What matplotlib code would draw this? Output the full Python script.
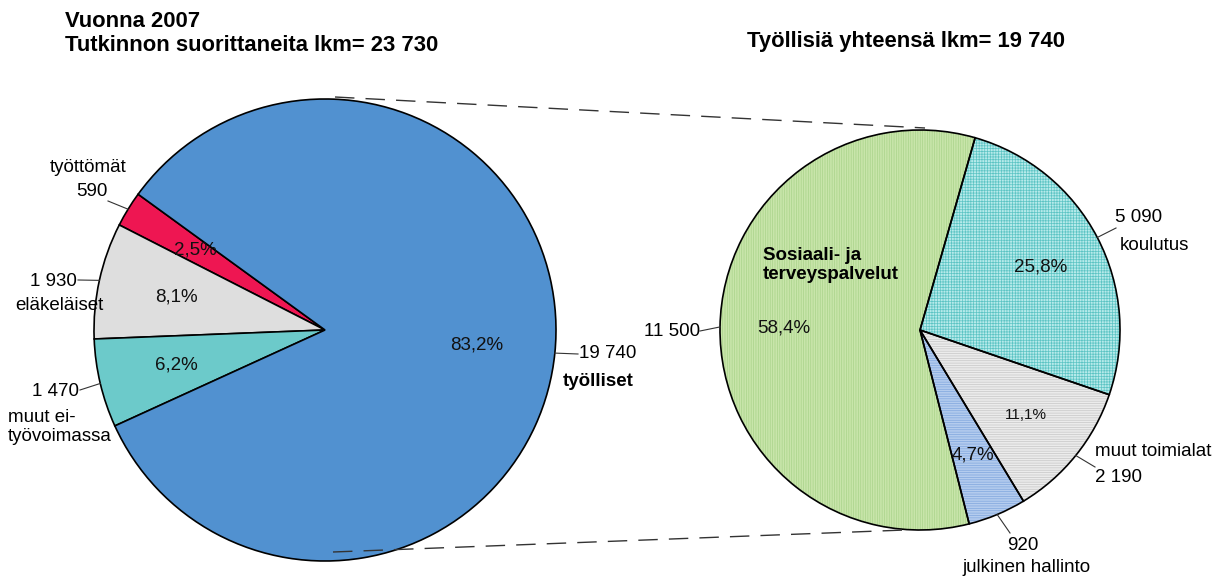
import numpy as np
import matplotlib

matplotlib.use('Agg')
import matplotlib.pyplot as plt

plt.rcParams['font.family'] = ['Liberation Sans', 'DejaVu Sans']
plt.rcParams['hatch.linewidth'] = 0.5

# vasen piirakka: tutkinnon suorittaneet
vasen_nimet = ['työttömät', 'eläkeläiset', 'muut ei-\ntyövoimassa', 'työlliset']
vasen_lkm = [590, 1930, 1470, 19740]
vasen_varit = ['#EE1652', '#DEDEDE', '#6CCACA', '#5191D0']

# oikea piirakka: työlliset toimialoittain
oikea_nimet = ['Sosiaali- ja\nterveyspalvelut', 'julkinen hallinto', 'muut toimialat', 'koulutus']
oikea_lkm = [11500, 920, 2190, 5090]
oikea_pros = [58.4, 4.7, 11.1, 25.8]
oikea_varit = ['#C8E5AA', '#B4CCEE', '#EBEBEB', '#B6EAEA']
oikea_viivat = ['#A9D38A', '#7FA6DE', '#C6C6C6', '#5CC4C4']
oikea_kuviot = ['|||||||', '-------', '-------', '++++++']

H = 580  # kuvan korkeus pikseleinä


def y(py):
    return H - py


def pros(p):
    return f'{p:.1f}%'.replace('.', ',')


def luku(n):
    return f'{n:,}'.replace(',', ' ')


fig = plt.figure(figsize=(12.2, 5.8), dpi=100)
ax = fig.add_axes([0, 0, 1, 1])

c1, r1 = (325, y(330)), 231
c2, r2 = (920, y(330)), 200

w1, _, t1 = ax.pie(vasen_lkm, colors=vasen_varit, startangle=144, center=c1, radius=r1,
                   autopct=pros, pctdistance=0.66,
                   wedgeprops=dict(edgecolor='black', linewidth=1.2),
                   textprops=dict(fontsize=13.5, color='#111111'))

ax.pie(oikea_pros, colors=oikea_varit, startangle=74, center=c2, radius=r2,
       hatch=oikea_kuviot, wedgeprops=dict(linewidth=0))
w2, _ = ax.pie(oikea_pros, startangle=74, center=c2, radius=r2,
               wedgeprops=dict(fill=False, edgecolor='black', linewidth=1.2))
for w, vari in zip(ax.patches[4:8], oikea_viivat):
    w.set_edgecolor(vari)
    w.set_linewidth(0)

# prosenttiluvut oikealle
koot = [13.5, 13.5, 11, 13.5]
for w, p, k in zip(w2, oikea_pros, koot):
    a = np.deg2rad((w.theta1 + w.theta2) / 2)
    ax.text(c2[0] + 0.68 * r2 * np.cos(a), c2[1] + 0.68 * r2 * np.sin(a), pros(p),
            ha='center', va='center', fontsize=k, color='#111111')


def johdin(w, c, r, loppu):
    a = np.deg2rad((w.theta1 + w.theta2) / 2)
    ax.plot([c[0] + r * np.cos(a), loppu[0]], [c[1] + r * np.sin(a), y(loppu[1])],
            color='#333333', lw=0.8)


fs = 13.5
# vasemman piirakan selitteet
johdin(w1[0], c1, r1, (108, 201))
ax.text(88, y(167), vasen_nimet[0], ha='center', va='center', fontsize=fs)
ax.text(108, y(192), luku(vasen_lkm[0]), ha='right', va='center', fontsize=fs)

johdin(w1[1], c1, r1, (78, 280))
ax.text(77, y(281), luku(vasen_lkm[1]), ha='right', va='center', fontsize=fs)
ax.text(15, y(305), vasen_nimet[1], ha='left', va='center', fontsize=fs)

johdin(w1[2], c1, r1, (80, 390))
ax.text(79, y(392), luku(vasen_lkm[2]), ha='right', va='center', fontsize=fs)
ax.text(8, y(427), vasen_nimet[2], ha='left', va='center', fontsize=fs, linespacing=1.1)

johdin(w1[3], c1, r1, (578, 354))
ax.text(579, y(354), luku(vasen_lkm[3]), ha='left', va='center', fontsize=fs)
ax.text(563, y(382), vasen_nimet[3], ha='left', va='center', fontsize=fs, fontweight='bold')

# oikean piirakan selitteet
johdin(w2[0], c2, r2, (700, 331))
ax.text(700, y(331), luku(oikea_lkm[0]), ha='right', va='center', fontsize=fs)
ax.text(763, y(265), oikea_nimet[0], ha='left', va='center', fontsize=fs,
        fontweight='bold', linespacing=1.1)

johdin(w2[1], c2, r2, (1010, 533))
ax.text(1023, y(545), luku(oikea_lkm[1]), ha='center', va='center', fontsize=fs)
ax.text(1027, y(568), oikea_nimet[1], ha='center', va='center', fontsize=fs)

johdin(w2[2], c2, r2, (1095, 467))
ax.text(1095, y(452), oikea_nimet[2], ha='left', va='center', fontsize=fs)
ax.text(1095, y(477), luku(oikea_lkm[2]), ha='left', va='center', fontsize=fs)

johdin(w2[3], c2, r2, (1116, 228))
ax.text(1115, y(217), luku(oikea_lkm[3]), ha='left', va='center', fontsize=fs)
ax.text(1120, y(245), oikea_nimet[3], ha='left', va='center', fontsize=fs)

# katkoviivat piirakoiden välillä
ax.plot([c1[0] + 10, c2[0] + 5], [c1[1] + r1 + 2, c2[1] + r2 + 2],
        color='#333333', lw=1, dashes=(14, 8))
ax.plot([c1[0] + 8, c2[0] - 15], [c1[1] - r1 + 9, c2[1] - r2],
        color='#333333', lw=1, dashes=(14, 8))

# otsikot
ax.text(65, y(27), 'Vuonna 2007', ha='left', va='baseline', fontsize=15.8, fontweight='bold')
ax.text(65, y(51), f'Tutkinnon suorittaneita lkm= {luku(sum(vasen_lkm))}',
        ha='left', va='baseline', fontsize=15.8, fontweight='bold')
ax.text(747, y(47), f'Työllisiä yhteensä lkm= {luku(vasen_lkm[3])}',
        ha='left', va='baseline', fontsize=15.8, fontweight='bold')

ax.set_xlim(0, 1220)
ax.set_ylim(0, H)
ax.set_aspect('equal')
ax.axis('off')

plt.savefig('out.png', dpi=100)
